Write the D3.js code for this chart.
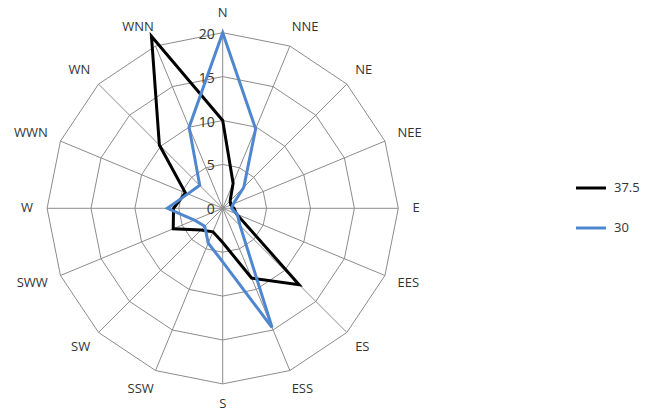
<!DOCTYPE html>
<html><head><meta charset="utf-8">
<script src="https://cdn.jsdelivr.net/npm/d3@7"></script>
<style>body{margin:0;background:#fff}text{font-family:"Open Sans",sans-serif;font-size:13px;fill:#333}</style>
</head><body><div id="vis"></div>
<script>
const directions = ['N','NNE','NE','NEE','E','EES','ES','ESS','S','SSW','SW','SWW','W','WWN','WN','WNN'];
const series1 = [10, 3.1, 1.2, 1.0, 1.3, 1.7, 12.3, 8.6, 3.9, 2.9, 3.5, 6.1, 5.6, 4.6, 10.2, 21.2];
const series2 = [20, 9.8, 3.4, 1.3, 1.0, 1.8, 2.8, 14.7, 6.1, 4.3, 2.9, 3.5, 6.3, 4.3, 3.7, 10.0];
const seriesNames = ['37.5', '30'];
const colors = ['#000000', '#4f86d0'];
const ticks = [0, 5, 10, 15, 20];

const width = 645, height = 414, cx = 222.7, cy = 208.3;
const r = d3.scaleLinear().domain([0, 20]).range([0, 175.6]);
const ang = d3.scaleLinear().domain([0, directions.length]).range([0, 2 * Math.PI]);
const pt = (i, v) => [cx + r(v) * Math.sin(ang(i)), cy - r(v) * Math.cos(ang(i))];

const svg = d3.select('#vis').append('svg').attr('width', width).attr('height', height);

// rings
ticks.slice(1).forEach(t => {
  svg.append('polygon')
    .attr('points', directions.map((d, i) => pt(i, t).join(',')).join(' '))
    .attr('fill', 'none').attr('stroke', '#8c8c8c').attr('stroke-width', 1);
});
// spokes + category labels
directions.forEach((d, i) => {
  const [x, y] = pt(i, 20);
  svg.append('line').attr('x1', cx).attr('y1', cy).attr('x2', x).attr('y2', y)
    .attr('stroke', '#8c8c8c').attr('stroke-width', 1);
  const [lx, ly] = pt(i, 22.3);
  const s = Math.sin(ang(i));
  svg.append('text').attr('x', lx).attr('y', ly + 4)
    .attr('text-anchor', Math.abs(s) < 0.1 ? 'middle' : (s > 0 ? 'start' : 'end'))
    .attr('dx', Math.abs(s) < 0.1 ? 0 : (s > 0 ? -6 : 6))
    .text(d);
});
// tick labels
ticks.forEach(t => {
  svg.append('text').attr('x', cx - 8).attr('y', cy - r(t) + 6)
    .attr('text-anchor', 'end').style('font-size', '14px').text(t);
});

const line = d3.line().curve(d3.curveLinearClosed);
[series1, series2].forEach((s, k) => {
  svg.append('path')
    .attr('d', line(s.map((v, i) => pt(i, v))))
    .attr('fill', 'none').attr('stroke', colors[k]).attr('stroke-width', 3)
    .attr('stroke-linejoin', 'miter');
});

// legend
seriesNames.forEach((n, k) => {
  const y = 188 + k * 40;
  svg.append('line').attr('x1', 576).attr('x2', 606).attr('y1', y).attr('y2', y)
    .attr('stroke', colors[k]).attr('stroke-width', 3);
  svg.append('text').attr('x', 614).attr('y', y + 4).text(n);
});
</script></body></html>
